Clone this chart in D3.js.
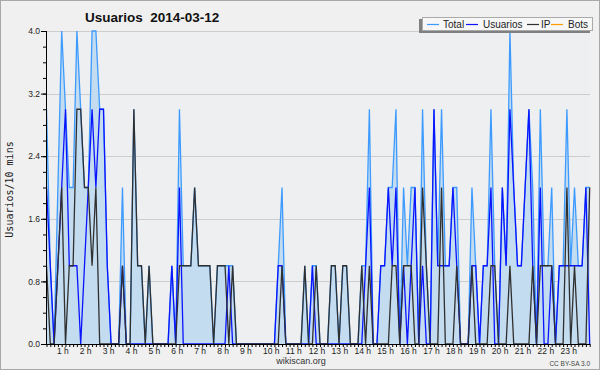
<!DOCTYPE html>
<html><head><meta charset="utf-8">
<script src="https://cdn.jsdelivr.net/npm/d3@7"></script>
<style>html,body{margin:0;padding:0;background:#f0f0f0;}svg{display:block;}</style>
</head><body>
<script>
const title = "Usuarios  2014-03-12";
const yTicks = [0, 0.8, 1.6, 2.4, 3.2, 4.0];
const hourLabels = ["1 h","2 h","3 h","4 h","5 h","6 h","7 h","8 h","9 h","10 h","11 h","12 h","13 h","14 h","15 h","16 h","17 h","18 h","19 h","20 h","21 h","22 h","23 h"];
const seriesNames = ["Total","Usuarios","IP","Bots"];
const total = [3,1,0,2,4,3,2,2,4,3, 2,2,4,4,3,3,1,0,0,0, 2,0,0,3,1,1,0,1,0,0, 0,0,0,1,0,3,1,1,1,2, 1,1,1,1,0,1,1,1,1,1, 0,0,0,0,0,0,0,0,0,0, 0,1,2,0,0,0,0,0,1,0, 1,1,0,0,0,1,1,0,1,1, 0,0,0,1,1,3,0,0,1,1, 2,2,3,0,2,1,2,2,0,3, 1,0,3,1,3,1,1,2,2,0, 0,0,2,1,0,1,1,3,1,0, 2,1,4,2,1,1,2,3,2,0, 3,1,1,2,0,1,1,3,1,2, 1,1,2,2];
const usuarios = [2,1,0,1,2,3,1,1,1,0, 1,2,3,2,3,3,1,0,0,0, 1,0,0,0,0,0,0,0,0,0, 0,0,0,1,0,2,0,0,0,0, 0,0,0,0,0,0,0,0,1,0, 0,0,0,0,0,0,0,0,0,0, 0,1,1,0,0,0,0,0,0,0, 1,0,0,0,0,0,0,0,0,0, 0,0,0,0,1,2,0,0,1,1, 2,1,2,0,1,0,1,2,0,1, 0,0,3,1,1,1,1,2,1,0, 0,0,1,1,0,1,1,2,0,0, 2,1,3,2,1,1,2,3,1,0, 2,0,0,1,0,1,1,1,1,1, 1,1,2,0];
const ip = [1,0,0,1,2,0,1,1,3,3, 2,2,1,2,0,0,0,0,0,0, 1,0,0,3,1,1,0,1,0,0, 0,0,0,0,0,1,1,1,1,2, 1,1,1,1,0,1,1,1,0,1, 0,0,0,0,0,0,0,0,0,0, 0,0,1,0,0,0,0,0,1,0, 0,1,0,0,0,1,1,0,1,1, 0,0,0,1,0,1,0,0,0,0, 0,1,1,0,1,1,1,0,0,2, 1,0,0,0,2,0,0,0,1,0, 0,0,1,0,0,0,0,1,1,0, 0,0,1,0,0,0,0,0,1,0, 1,1,1,1,0,0,0,2,0,1, 0,0,0,2];
const bots = [0,0,0,0,0,0,0,0,0,0, 0,0,0,0,0,0,0,0,0,0, 0,0,0,0,0,0,0,0,0,0, 0,0,0,0,0,0,0,0,0,0, 0,0,0,0,0,0,0,0,0,0, 0,0,0,0,0,0,0,0,0,0, 0,0,0,0,0,0,0,0,0,0, 0,0,0,0,0,0,0,0,0,0, 0,0,0,0,0,0,0,0,0,0, 0,0,0,0,0,0,0,0,0,0, 0,0,0,0,0,0,0,0,0,0, 0,0,0,0,0,0,0,0,0,0, 0,0,0,0,0,0,0,0,0,0, 0,0,0,0,0,0,0,0,0,0, 0,0,0,0];

const W = 600, H = 370;
const FONT = "Liberation Sans, Arial, sans-serif";
const svg = d3.select("body").append("svg").attr("width", W).attr("height", H);
svg.append("rect").attr("x",0.5).attr("y",0.5).attr("width",W-1).attr("height",H-1)
  .attr("fill","#f0f0f0").attr("stroke","#a8a8a8").attr("stroke-width",1);

const L = 46, R = 590, T = 31, B = 344;
svg.append("rect").attr("x",L).attr("y",T).attr("width",R-L).attr("height",B-T).attr("fill","#edeff1");

const x = d3.scaleLinear().domain([0,143]).range([46.5, 589.7]);
const y = d3.scaleLinear().domain([0,4]).range([B, T]);

// grid
svg.append("g").selectAll("line").data(yTicks.slice(1)).join("line")
  .attr("x1",L).attr("x2",R).attr("y1",d=>Math.round(y(d))+0.5).attr("y2",d=>Math.round(y(d))+0.5)
  .attr("stroke","#cdcdcd").attr("stroke-width",1);

svg.append("clipPath").attr("id","c").append("rect").attr("x",L).attr("y",T-2).attr("width",R-L+1).attr("height",B-T+2);
const g = svg.append("g").attr("clip-path","url(#c)");
const idx = d3.range(total.length);
g.append("path").datum(idx).attr("fill","#c4dcf0")
  .attr("d", d3.area().x(i=>x(i)).y0(B).y1(i=>y(total[i])));
const line = arr => d3.line().x(i=>x(i)).y(i=>y(arr[i]));
const colors = ["#3d9bff","#0a14ff","#303030","#ff9a00"];
g.append("path").datum(idx).attr("fill","none").attr("stroke",colors[0]).attr("stroke-width",1.3).attr("d", line(total));
g.append("path").datum(idx).attr("fill","none").attr("stroke",colors[1]).attr("stroke-width",1.3).attr("d", line(usuarios));
g.append("path").datum(idx).attr("fill","none").attr("stroke",colors[2]).attr("stroke-width",1.3).attr("d", line(ip));

// y axis
const yAxis = d3.axisLeft(y).tickValues(yTicks).tickFormat(d3.format(".1f")).tickSize(5);
const ya = svg.append("g").attr("transform",`translate(${L},0)`).call(yAxis);
ya.select(".domain").remove();
ya.selectAll("text").attr("font-family",FONT).attr("font-size",8.5).attr("fill","#222").attr("x",-6);
const yMinor = d3.axisLeft(y).tickValues(d3.range(0,4.01,0.2)).tickFormat("").tickSize(3);
const ym = svg.append("g").attr("transform",`translate(${L},0)`).call(yMinor);
ym.select(".domain").remove();
svg.append("line").attr("x1",L+0.5).attr("x2",L+0.5).attr("y1",T).attr("y2",B).attr("stroke","#000");

// x axis
const xAxis = d3.axisBottom(x).tickValues(idx).tickFormat("").tickSize(3);
const xa = svg.append("g").attr("transform",`translate(0,${B})`).call(xAxis);
xa.select(".domain").remove();
svg.append("line").attr("x1",L).attr("x2",R).attr("y1",B+0.5).attr("y2",B+0.5).attr("stroke","#000");
svg.append("g").selectAll("text").data(hourLabels).join("text")
  .attr("x",(d,i)=>x((i+1)*6)-12.5+0.1*(i+1)).attr("y",353.5)
  .attr("font-family",FONT).attr("font-size",8.5).attr("fill","#222")
  .text(d=>d);

// titles
svg.append("text").attr("x",85).attr("y",22).attr("font-family",FONT).attr("font-weight","bold")
  .attr("font-size",13.5).attr("fill","#111").style("white-space","pre").text(title);
svg.append("text").attr("transform","translate(13,189.5) rotate(-90)").attr("text-anchor","middle")
  .attr("font-family","DejaVu Sans Mono").attr("font-size",10).attr("fill","#222").text("Usuarios/10 mins");
svg.append("text").attr("x",301).attr("y",364).attr("text-anchor","middle").attr("font-family",FONT)
  .attr("font-size",9).attr("fill","#333").text("wikiscan.org");
svg.append("text").attr("x",590).attr("y",365.5).attr("text-anchor","end").attr("font-family",FONT)
  .attr("font-size",6.5).attr("fill","#444").text("CC BY-SA 3.0");

// legend
svg.append("rect").attr("x",419).attr("y",19).attr("width",171).attr("height",14).attr("fill","#808080");
svg.append("rect").attr("x",422.5).attr("y",17.5).attr("width",170).attr("height",13).attr("fill","#f7f7f7").attr("stroke","#aaa");
const legLine = [427, 466, 527, 551];
const legText = [443, 483, 541, 568];
const lg = svg.append("g");
seriesNames.forEach((n,i)=>{
  lg.append("line").attr("x1",legLine[i]).attr("x2",legLine[i]+12).attr("y1",24.5).attr("y2",24.5).attr("stroke",colors[i]).attr("stroke-width",1.2);
  lg.append("text").attr("x",legText[i]).attr("y",28.3).attr("font-family",FONT).attr("font-size",10).attr("fill","#222").text(n);
});
</script>
</body></html>
